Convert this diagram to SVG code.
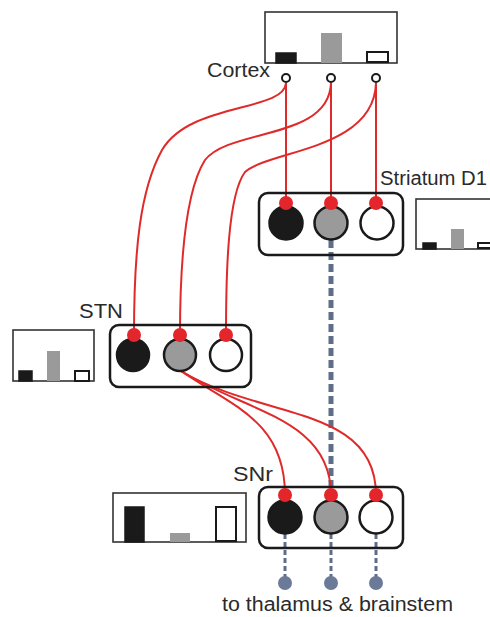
<svg xmlns="http://www.w3.org/2000/svg" width="490" height="617" viewBox="0 0 490 617">
<style>
text{font-family:"Liberation Sans",Arial,sans-serif;font-size:20px;fill:#2a2a2a}
.box{fill:none;stroke:#1a1a1a;stroke-width:2.5}
.chart{fill:#fff;stroke:#333;stroke-width:1.6}
.bk{fill:#1a1a1a;stroke:#1a1a1a;stroke-width:1.5}
.gr{fill:#9a9a9a}
.wh{fill:#fff;stroke:#1a1a1a;stroke-width:2}
.cb{fill:#1a1a1a;stroke:#1a1a1a;stroke-width:2.5}
.cg{fill:#9a9a9a;stroke:#1a1a1a;stroke-width:2.5}
.cw{fill:#fff;stroke:#1a1a1a;stroke-width:2.5}
.syn{fill:#e3262b}
.red{fill:none;stroke:#e02a2a;stroke-width:2}
.blue{fill:none;stroke:#5e6d8a;stroke-dasharray:8 4;stroke-width:5}
.sblue{fill:none;stroke:#5e6d8a;stroke-dasharray:5 3;stroke-width:3}
.out{fill:#6a7a98}
.port{fill:#fff;stroke:#1a1a1a;stroke-width:2}
</style>
<g id="connectors">
  <path class="blue" d="M331,240 L331,492"/>
  <path class="sblue" d="M285,534 L285,578"/>
  <path class="sblue" d="M331,534 L331,578"/>
  <path class="sblue" d="M376,534 L376,578"/>
  <path class="red" d="M286,83 L286,203"/>
  <path class="red" d="M331,83 L331,203"/>
  <path class="red" d="M376,83 L376,203"/>
  <path class="red" d="M286,83 C284,112 190,102 162,150 C140,190 134,250 134,335"/>
  <path class="red" d="M331,83 C329,140 230,128 205,160 C186,190 180,260 180,335"/>
  <path class="red" d="M376,83 C374,150 270,150 245,172 C228,195 226,270 226,335"/>
  <path class="red" d="M181,371 C230,405 285,420 285,495"/>
  <path class="red" d="M181,371 C245,412 331,418 331,495"/>
  <path class="red" d="M181,371 C262,420 376,405 376,495"/>
</g>
<g id="cortex">
  <rect class="chart" x="265" y="12" width="132" height="51"/>
  <rect class="bk" x="276" y="53" width="20" height="10"/>
  <rect class="gr" x="321" y="33" width="21" height="30"/>
  <rect class="wh" x="367" y="52" width="21" height="10"/>
  <circle class="port" cx="286" cy="78" r="4"/>
  <circle class="port" cx="331" cy="78" r="4"/>
  <circle class="port" cx="376" cy="78" r="4"/>
  <text x="207" y="77" textLength="63" lengthAdjust="spacingAndGlyphs">Cortex</text>
</g>
<g id="striatum">
  <rect class="box" x="259" y="193" width="144" height="62" rx="9"/>
  <circle class="cb" cx="286" cy="223" r="16.5"/>
  <circle class="cg" cx="331" cy="223" r="16.5"/>
  <circle class="cw" cx="377" cy="223" r="16.5"/>
  <circle class="syn" cx="286" cy="203" r="7"/>
  <circle class="syn" cx="331" cy="203" r="7"/>
  <circle class="syn" cx="376" cy="203" r="7"/>
  <text x="380" y="185" textLength="107" lengthAdjust="spacingAndGlyphs">Striatum D1</text>
  <rect class="chart" x="416" y="199" width="80" height="50"/>
  <rect class="bk" x="423" y="243" width="13" height="6"/>
  <rect class="gr" x="451" y="229" width="13" height="20"/>
  <rect class="wh" x="478" y="243" width="14" height="5"/>
</g>
<g id="stn">
  <rect class="box" x="110" y="325" width="141" height="62" rx="9"/>
  <circle class="cb" cx="133" cy="355" r="16"/>
  <circle class="cg" cx="180" cy="355" r="16"/>
  <circle class="cw" cx="226" cy="355" r="16"/>
  <circle class="syn" cx="134" cy="335" r="7"/>
  <circle class="syn" cx="180" cy="335" r="7"/>
  <circle class="syn" cx="226" cy="335" r="7"/>
  <text x="79" y="318" textLength="44" lengthAdjust="spacingAndGlyphs">STN</text>
  <rect class="chart" x="13" y="330" width="81" height="51"/>
  <rect class="bk" x="19" y="371" width="13" height="10"/>
  <rect class="gr" x="47" y="351" width="13" height="30"/>
  <rect class="wh" x="75" y="371" width="14" height="10"/>
</g>
<g id="snr">
  <rect class="box" x="259" y="487" width="144" height="61" rx="9"/>
  <circle class="cb" cx="285" cy="517" r="16.5"/>
  <circle class="cg" cx="331" cy="517" r="16.5"/>
  <circle class="cw" cx="376" cy="517" r="16.5"/>
  <circle class="syn" cx="285" cy="495" r="7"/>
  <circle class="syn" cx="331" cy="495" r="7"/>
  <circle class="syn" cx="376" cy="495" r="7"/>
  <text x="233" y="481" textLength="40" lengthAdjust="spacingAndGlyphs">SNr</text>
  <rect class="chart" x="113" y="493" width="133" height="49"/>
  <rect class="bk" x="125" y="507" width="19" height="35"/>
  <rect class="gr" x="170" y="533" width="20" height="9"/>
  <rect class="wh" x="216" y="507" width="20" height="34"/>
</g>
<g id="outputs">
  <circle class="out" cx="285" cy="583" r="7"/>
  <circle class="out" cx="331" cy="583" r="7"/>
  <circle class="out" cx="376" cy="583" r="7"/>
  <text x="222" y="611" textLength="231" lengthAdjust="spacingAndGlyphs">to thalamus &amp; brainstem</text>
</g>
</svg>
